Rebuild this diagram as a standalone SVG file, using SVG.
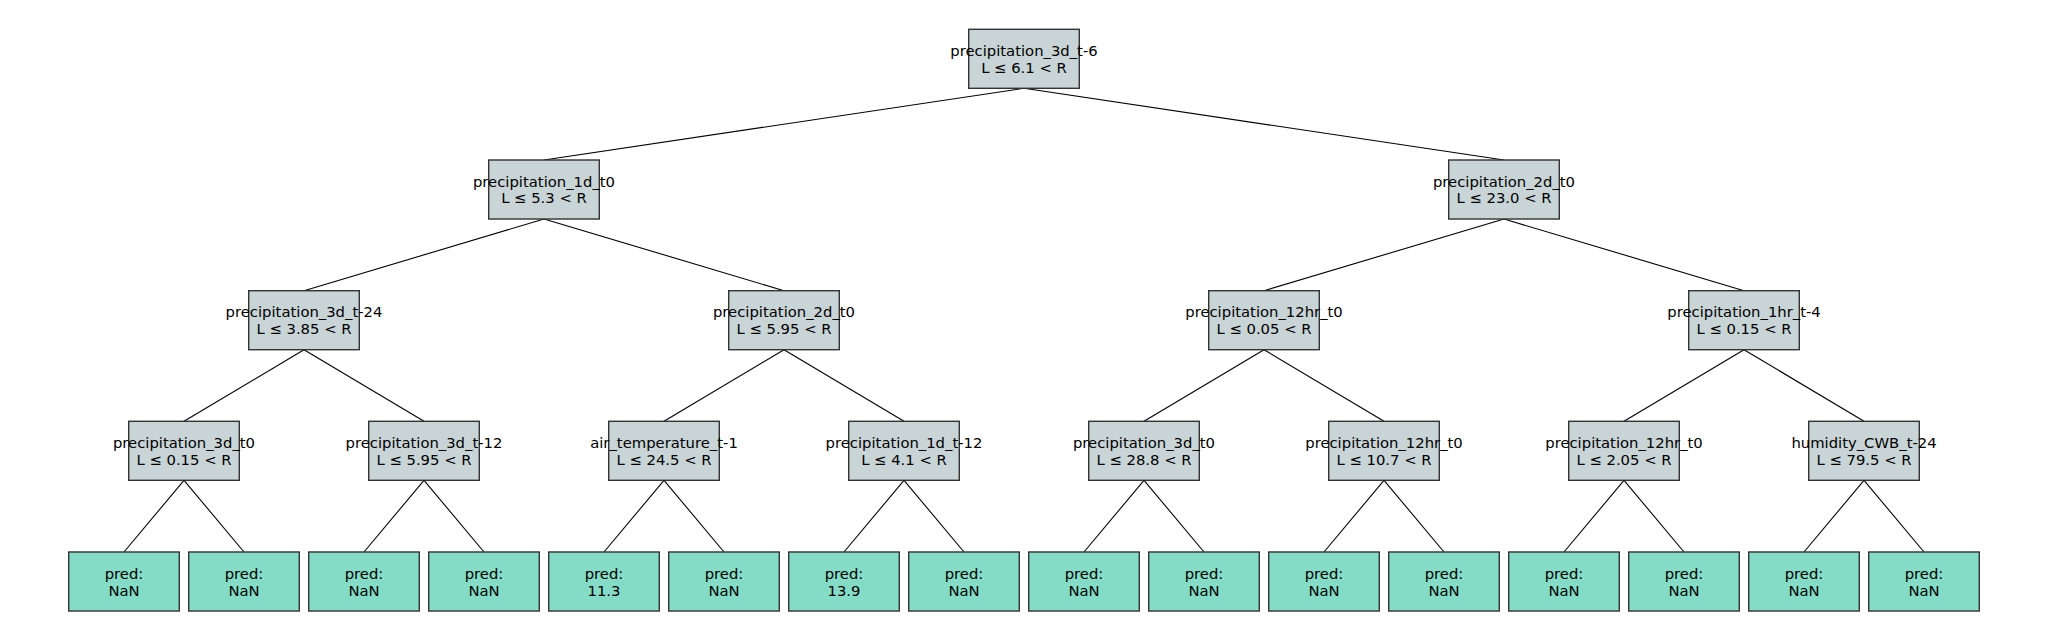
<svg xmlns="http://www.w3.org/2000/svg" width="2048" height="640" viewBox="0 0 2048 640">
<style>
.n rect{fill:#c8d4d6;stroke:#333;stroke-width:1.4}
.l rect{fill:#84dcc6;stroke:#333;stroke-width:1.4}
text{font-family:"DejaVu Sans",sans-serif;font-size:14.8px;fill:#000;text-anchor:middle}
#edges line{stroke:#000;stroke-width:1.1}
</style>
<rect width="2048" height="640" fill="#fff"/>
<g id="edges">
<line x1="1024" y1="88.3" x2="544" y2="160"/>
<line x1="1024" y1="88.3" x2="1504" y2="160"/>
<line x1="544" y1="219" x2="304" y2="290.7"/>
<line x1="544" y1="219" x2="784" y2="290.7"/>
<line x1="1504" y1="219" x2="1264" y2="290.7"/>
<line x1="1504" y1="219" x2="1744" y2="290.7"/>
<line x1="304" y1="349.7" x2="184" y2="421.3"/>
<line x1="304" y1="349.7" x2="424" y2="421.3"/>
<line x1="784" y1="349.7" x2="664" y2="421.3"/>
<line x1="784" y1="349.7" x2="904" y2="421.3"/>
<line x1="1264" y1="349.7" x2="1144" y2="421.3"/>
<line x1="1264" y1="349.7" x2="1384" y2="421.3"/>
<line x1="1744" y1="349.7" x2="1624" y2="421.3"/>
<line x1="1744" y1="349.7" x2="1864" y2="421.3"/>
<line x1="184" y1="480.3" x2="124" y2="552"/>
<line x1="184" y1="480.3" x2="244" y2="552"/>
<line x1="424" y1="480.3" x2="364" y2="552"/>
<line x1="424" y1="480.3" x2="484" y2="552"/>
<line x1="664" y1="480.3" x2="604" y2="552"/>
<line x1="664" y1="480.3" x2="724" y2="552"/>
<line x1="904" y1="480.3" x2="844" y2="552"/>
<line x1="904" y1="480.3" x2="964" y2="552"/>
<line x1="1144" y1="480.3" x2="1084" y2="552"/>
<line x1="1144" y1="480.3" x2="1204" y2="552"/>
<line x1="1384" y1="480.3" x2="1324" y2="552"/>
<line x1="1384" y1="480.3" x2="1444" y2="552"/>
<line x1="1624" y1="480.3" x2="1564" y2="552"/>
<line x1="1624" y1="480.3" x2="1684" y2="552"/>
<line x1="1864" y1="480.3" x2="1804" y2="552"/>
<line x1="1864" y1="480.3" x2="1924" y2="552"/>
</g>
<g id="n0" class="n"><rect x="968.7" y="29.3" width="110.6" height="59"/><text x="1024" y="56">precipitation_3d_t-6</text><text x="1024" y="72.5">L ≤ 6.1 &lt; R</text></g>
<g id="n1" class="n"><rect x="488.7" y="160" width="110.6" height="59"/><text x="544" y="186.7">precipitation_1d_t0</text><text x="544" y="203.2">L ≤ 5.3 &lt; R</text></g>
<g id="n2" class="n"><rect x="1448.7" y="160" width="110.6" height="59"/><text x="1504" y="186.7">precipitation_2d_t0</text><text x="1504" y="203.2">L ≤ 23.0 &lt; R</text></g>
<g id="n3" class="n"><rect x="248.7" y="290.7" width="110.6" height="59"/><text x="304" y="317.4">precipitation_3d_t-24</text><text x="304" y="333.9">L ≤ 3.85 &lt; R</text></g>
<g id="n4" class="n"><rect x="728.7" y="290.7" width="110.6" height="59"/><text x="784" y="317.4">precipitation_2d_t0</text><text x="784" y="333.9">L ≤ 5.95 &lt; R</text></g>
<g id="n5" class="n"><rect x="1208.7" y="290.7" width="110.6" height="59"/><text x="1264" y="317.4">precipitation_12hr_t0</text><text x="1264" y="333.9">L ≤ 0.05 &lt; R</text></g>
<g id="n6" class="n"><rect x="1688.7" y="290.7" width="110.6" height="59"/><text x="1744" y="317.4">precipitation_1hr_t-4</text><text x="1744" y="333.9">L ≤ 0.15 &lt; R</text></g>
<g id="n7" class="n"><rect x="128.7" y="421.3" width="110.6" height="59"/><text x="184" y="448">precipitation_3d_t0</text><text x="184" y="464.5">L ≤ 0.15 &lt; R</text></g>
<g id="n8" class="n"><rect x="368.7" y="421.3" width="110.6" height="59"/><text x="424" y="448">precipitation_3d_t-12</text><text x="424" y="464.5">L ≤ 5.95 &lt; R</text></g>
<g id="n9" class="n"><rect x="608.7" y="421.3" width="110.6" height="59"/><text x="664" y="448">air_temperature_t-1</text><text x="664" y="464.5">L ≤ 24.5 &lt; R</text></g>
<g id="n10" class="n"><rect x="848.7" y="421.3" width="110.6" height="59"/><text x="904" y="448">precipitation_1d_t-12</text><text x="904" y="464.5">L ≤ 4.1 &lt; R</text></g>
<g id="n11" class="n"><rect x="1088.7" y="421.3" width="110.6" height="59"/><text x="1144" y="448">precipitation_3d_t0</text><text x="1144" y="464.5">L ≤ 28.8 &lt; R</text></g>
<g id="n12" class="n"><rect x="1328.7" y="421.3" width="110.6" height="59"/><text x="1384" y="448">precipitation_12hr_t0</text><text x="1384" y="464.5">L ≤ 10.7 &lt; R</text></g>
<g id="n13" class="n"><rect x="1568.7" y="421.3" width="110.6" height="59"/><text x="1624" y="448">precipitation_12hr_t0</text><text x="1624" y="464.5">L ≤ 2.05 &lt; R</text></g>
<g id="n14" class="n"><rect x="1808.7" y="421.3" width="110.6" height="59"/><text x="1864" y="448">humidity_CWB_t-24</text><text x="1864" y="464.5">L ≤ 79.5 &lt; R</text></g>
<g id="leaf0" class="l"><rect x="68.7" y="552" width="110.6" height="59"/><text x="124" y="579">pred:</text><text x="124" y="595.5">NaN</text></g>
<g id="leaf1" class="l"><rect x="188.7" y="552" width="110.6" height="59"/><text x="244" y="579">pred:</text><text x="244" y="595.5">NaN</text></g>
<g id="leaf2" class="l"><rect x="308.7" y="552" width="110.6" height="59"/><text x="364" y="579">pred:</text><text x="364" y="595.5">NaN</text></g>
<g id="leaf3" class="l"><rect x="428.7" y="552" width="110.6" height="59"/><text x="484" y="579">pred:</text><text x="484" y="595.5">NaN</text></g>
<g id="leaf4" class="l"><rect x="548.7" y="552" width="110.6" height="59"/><text x="604" y="579">pred:</text><text x="604" y="595.5">11.3</text></g>
<g id="leaf5" class="l"><rect x="668.7" y="552" width="110.6" height="59"/><text x="724" y="579">pred:</text><text x="724" y="595.5">NaN</text></g>
<g id="leaf6" class="l"><rect x="788.7" y="552" width="110.6" height="59"/><text x="844" y="579">pred:</text><text x="844" y="595.5">13.9</text></g>
<g id="leaf7" class="l"><rect x="908.7" y="552" width="110.6" height="59"/><text x="964" y="579">pred:</text><text x="964" y="595.5">NaN</text></g>
<g id="leaf8" class="l"><rect x="1028.7" y="552" width="110.6" height="59"/><text x="1084" y="579">pred:</text><text x="1084" y="595.5">NaN</text></g>
<g id="leaf9" class="l"><rect x="1148.7" y="552" width="110.6" height="59"/><text x="1204" y="579">pred:</text><text x="1204" y="595.5">NaN</text></g>
<g id="leaf10" class="l"><rect x="1268.7" y="552" width="110.6" height="59"/><text x="1324" y="579">pred:</text><text x="1324" y="595.5">NaN</text></g>
<g id="leaf11" class="l"><rect x="1388.7" y="552" width="110.6" height="59"/><text x="1444" y="579">pred:</text><text x="1444" y="595.5">NaN</text></g>
<g id="leaf12" class="l"><rect x="1508.7" y="552" width="110.6" height="59"/><text x="1564" y="579">pred:</text><text x="1564" y="595.5">NaN</text></g>
<g id="leaf13" class="l"><rect x="1628.7" y="552" width="110.6" height="59"/><text x="1684" y="579">pred:</text><text x="1684" y="595.5">NaN</text></g>
<g id="leaf14" class="l"><rect x="1748.7" y="552" width="110.6" height="59"/><text x="1804" y="579">pred:</text><text x="1804" y="595.5">NaN</text></g>
<g id="leaf15" class="l"><rect x="1868.7" y="552" width="110.6" height="59"/><text x="1924" y="579">pred:</text><text x="1924" y="595.5">NaN</text></g>
</svg>
